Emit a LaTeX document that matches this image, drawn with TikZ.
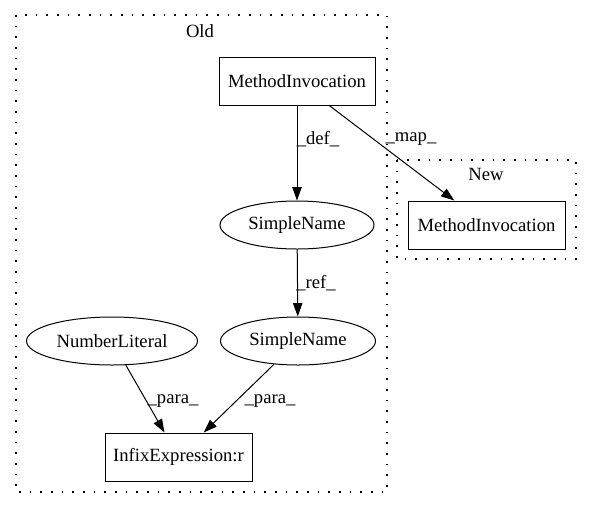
\documentclass[tikz,border=0pt]{standalone}
\usepackage{fontspec}
\setmainfont{Liberation Serif}
\usetikzlibrary{arrows.meta,shapes.geometric}
\begin{document}
\begin{tikzpicture}[x=0.75pt,y=-0.75pt,
  every node/.style={font=\fontsize{14pt}{16pt}\selectfont},
  boxnode/.style={draw, rectangle, inner sep=0pt, line width=0.75pt, minimum height=36pt},
  ellnode/.style={draw, ellipse, inner sep=0pt, line width=0.75pt, minimum height=36pt},
  arrowline/.style={line width=0.75pt, -{Triangle[length=10pt,width=7pt]}},
  cluster/.style={draw, line width=0.9pt, dash pattern=on 1.2pt off 6.8pt},
  elabel/.style={inner sep=0pt}]
\useasboundingbox (0,0) rectangle (592,508);
% clusters
\draw[cluster] (16,15) rectangle (387,492);
\node[elabel] (oldlbl) at (200,31) {Old};
\draw[cluster] (397,160) rectangle (576,259);
\node[elabel] (newlbl) at (486,174) {New};
% nodes
\node[boxnode, minimum width=156*0.75pt] (mi) at (297,81) {MethodInvocation};
\node[ellnode, minimum width=154*0.75pt] (sn1) at (297,225) {SimpleName};
\node[ellnode, minimum width=155*0.75pt] (sn2) at (298,341) {SimpleName};
\node[ellnode, minimum width=171*0.75pt] (nl) at (112,341) {NumberLiteral};
\node[boxnode, minimum width=147*0.75pt] (ie) at (178.5,457) {InfixExpression:r};
\node[boxnode, minimum width=157*0.75pt] (mi2) at (486.5,225) {MethodInvocation};
% edges
\draw[arrowline] (mi) -- (sn1);
\draw[arrowline] (mi) -- (mi2);
\draw[arrowline] (sn1) -- (sn2);
\draw[arrowline] (nl) -- (ie);
\draw[arrowline] (sn2) -- (ie);
% edge labels
\node[elabel] (ldef) at (318,139) {\_def\_};
\node[elabel] (lmap) at (411,139) {\_map\_};
\node[elabel] (lref) at (316,283) {\_ref\_};
\node[elabel] (lpara1) at (173,401) {\_para\_};
\node[elabel] (lpara2) at (270,401) {\_para\_};
\end{tikzpicture}
\end{document}
